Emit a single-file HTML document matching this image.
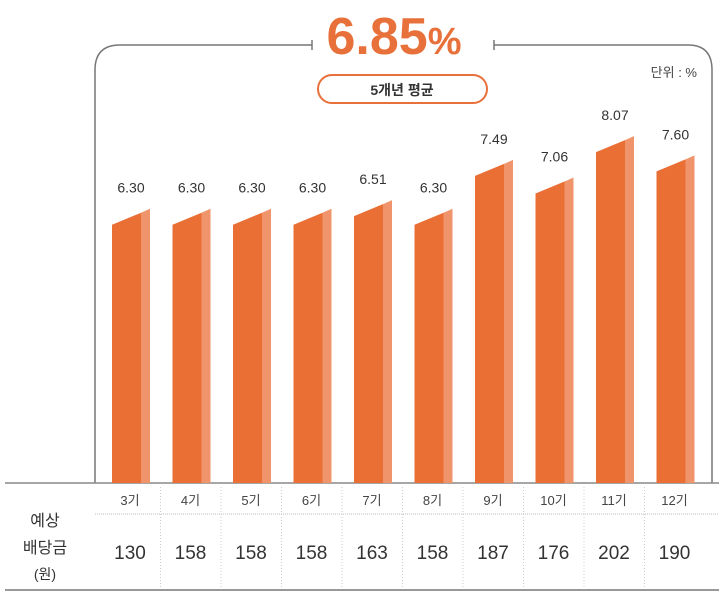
<!DOCTYPE html>
<html><head><meta charset="utf-8"><style>
body{margin:0;background:#fff;width:719px;height:594px;overflow:hidden;font-family:"Liberation Sans","Noto Sans CJK KR",sans-serif}
svg text{font-family:"Liberation Sans","Noto Sans CJK KR",sans-serif}
</style></head><body>
<svg width="719" height="594" id="chart">
<path d="M95,483 L95,70 Q95,45 120,45 L312,45 M494,45 L688,45 Q712,45 712,70 L712,483" fill="none" stroke="#777" stroke-width="1.5"/>
<line x1="312" y1="40" x2="312" y2="50" stroke="#777" stroke-width="1.5"/>
<line x1="494" y1="40" x2="494" y2="50" stroke="#777" stroke-width="1.5"/>
<text x="394" y="54" text-anchor="middle" fill="#e8703a" font-size="52" font-weight="bold">6.85<tspan font-size="38">%</tspan></text>
<rect x="318" y="75" width="169" height="28" rx="14" fill="#fff" stroke="#e8703a" stroke-width="2"/>
<text x="402" y="95" text-anchor="middle" font-size="14" font-weight="bold" fill="#333">5개년 평균</text>
<text x="697" y="77" text-anchor="end" font-size="13" fill="#444">단위 : %</text>
<line x1="5" y1="483" x2="719" y2="483" stroke="#888" stroke-width="1.5"/>
<line x1="95" y1="514" x2="719" y2="514" stroke="#bbb" stroke-dasharray="1,1"/>
<line x1="5" y1="590" x2="719" y2="590" stroke="#999" stroke-width="2"/>
<text x="45" y="526" text-anchor="middle" font-size="16" fill="#333">예상</text>
<text x="45" y="553" text-anchor="middle" font-size="16" fill="#333">배당금</text>
<text x="45" y="579" text-anchor="middle" font-size="14" fill="#333">(원)</text>
<g id="bars"></g>
</svg>
<script>
const periods=["3기","4기","5기","6기","7기","8기","9기","10기","11기","12기"];
const yields=[6.30,6.30,6.30,6.30,6.51,6.30,7.49,7.06,8.07,7.60];
const yieldLabels=["6.30","6.30","6.30","6.30","6.51","6.30","7.49","7.06","8.07","7.60"];
const dividends=[130,158,158,158,163,158,187,176,202,190];
const NS="http://www.w3.org/2000/svg";
const g=document.getElementById("bars");
const x0=112,pitch=60.5,fw=29,sw=9,base=483;
function xAt(i){return x0+i*pitch;}
function yAt(v){return base-v*41;}
function mk(t,a){const e=document.createElementNS(NS,t);for(const k in a)e.setAttribute(k,a[k]);g.appendChild(e);return e;}
yields.forEach((v,i)=>{
 const x=xAt(i),y=yAt(v);
 const f=mk("polygon",{points:`${x},${y} ${x+fw},${y-12} ${x+fw},${base} ${x},${base}`,fill:"#ea6f35"});
 
 
 const s=mk("polygon",{points:`${x+fw},${y-12} ${x+fw+sw},${y-16} ${x+fw+sw},${base} ${x+fw},${base}`,fill:"#f0956b"});
 
 
 const t=mk("text",{x:x+19,y:y-32,"text-anchor":"middle","font-size":"14",fill:"#333"});
 t.textContent=yieldLabels[i];
 
 
 const cx=x+18;
 const p=mk("text",{x:cx,y:505,"text-anchor":"middle","font-size":"13",fill:"#444"});
 p.textContent=periods[i];
 
 
 const d=mk("text",{x:cx,y:559,"text-anchor":"middle","font-size":"19",fill:"#333"});
 d.textContent=dividends[i];
 
 
 if(i>0){const l=mk("line",{x1:x-12,y1:487,x2:x-12,y2:588,stroke:"#ccc","stroke-dasharray":"1,2"});
 
 }
});
</script>
</body></html>
